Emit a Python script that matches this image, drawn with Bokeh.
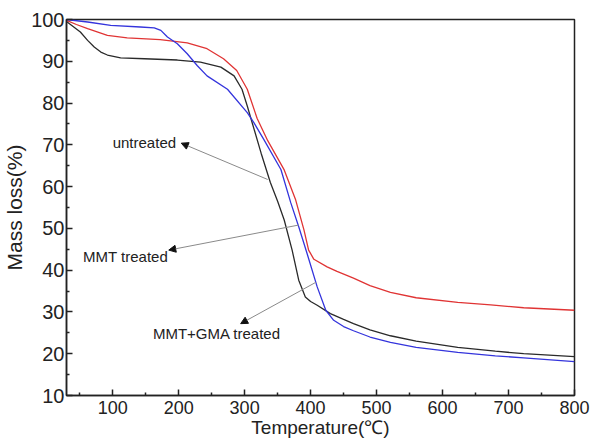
from bokeh.plotting import figure
from bokeh.models import Range1d, FixedTicker, Label, Arrow, NormalHead
from bokeh.embed import file_html
from bokeh.resources import INLINE

# Data
t_untreated = [30, 51, 62, 72, 82, 92, 112, 148, 198, 233, 264, 284, 296, 304, 312,
               325, 339, 350, 360, 372, 382, 392, 400, 410, 430, 450, 465, 490, 521,
               560, 623, 680, 723, 800]
m_untreated = [99.5, 97.0, 95.0, 93.4, 92.2, 91.5, 90.8, 90.6, 90.3, 89.8, 88.6, 86.5,
               83.3, 79.3, 75.0, 68.0, 61.0, 56.5, 52.0, 44.8, 37.6, 33.6, 32.5, 31.6,
               29.6, 28.2, 27.2, 25.7, 24.3, 23.0, 21.5, 20.6, 20.0, 19.3]

t_mmt = [30, 45, 62, 92, 122, 172, 213, 243, 268, 288, 304, 319, 335, 360, 377, 390,
         397, 405, 425, 440, 465, 490, 521, 560, 623, 673, 723, 800]
m_mmt = [99.8, 98.8, 97.8, 96.2, 95.6, 95.2, 94.4, 93.0, 90.6, 87.8, 83.3, 76.3, 71.0,
         64.0, 57.0, 49.6, 44.8, 42.6, 40.8, 39.7, 38.1, 36.3, 34.7, 33.4, 32.3, 31.7,
         31.0, 30.4]

t_gma = [30, 62, 97, 142, 163, 173, 183, 198, 213, 228, 243, 274, 304, 314, 329, 355,
         370, 382, 395, 410, 423, 435, 450, 465, 490, 521, 560, 623, 680, 723, 800]
m_gma = [100.0, 99.4, 98.6, 98.2, 98.0, 97.4, 95.8, 94.2, 91.8, 89.0, 86.5, 83.3, 77.7,
         75.3, 71.3, 64.1, 56.1, 50.4, 43.8, 36.0, 30.4, 28.0, 26.5, 25.5, 24.0, 22.7,
         21.5, 20.3, 19.5, 19.0, 18.1]

x_ticks = [100, 200, 300, 400, 500, 600, 700, 800]
x_minor = [50, 150, 250, 350, 450, 550, 650, 750]
y_ticks = [10, 20, 30, 40, 50, 60, 70, 80, 90, 100]
y_minor = [15, 25, 35, 45, 55, 65, 75, 85, 95]

FONT = "Liberation Sans"

p = figure(width=590, height=444, output_backend="svg", toolbar_location=None,
           x_range=Range1d(30, 800), y_range=Range1d(10, 100),
           min_border_left=66, min_border_right=16, min_border_top=19,
           min_border_bottom=49)
p.background_fill_color = "white"
p.border_fill_color = "white"
p.outline_line_color = "#222222"
p.outline_line_width = 1.5
p.xgrid.visible = False
p.ygrid.visible = False

p.line(t_untreated, m_untreated, line_color="#2a2a2a", line_width=1.3)
p.line(t_mmt, m_mmt, line_color="#e03434", line_width=1.3)
p.line(t_gma, m_gma, line_color="#3434dc", line_width=1.3)

for ax, ticks, minor in ((p.xaxis[0], x_ticks, x_minor), (p.yaxis[0], y_ticks, y_minor)):
    ax.ticker = FixedTicker(ticks=ticks, minor_ticks=minor)
    ax.axis_line_color = "#222222"
    ax.axis_line_width = 1.5
    ax.major_tick_line_color = "#222222"
    ax.major_tick_line_width = 1.5
    ax.minor_tick_line_color = "#222222"
    ax.minor_tick_line_width = 1.5
    ax.major_tick_in = 6
    ax.major_tick_out = 0
    ax.minor_tick_in = 3
    ax.minor_tick_out = 0
    ax.major_label_text_font = FONT
    ax.major_label_text_color = "#222222"
    ax.axis_label_text_font = FONT
    ax.axis_label_text_font_style = "normal"
    ax.axis_label_text_color = "#222222"

p.xaxis.major_label_text_font_size = "18px"
p.yaxis.major_label_text_font_size = "20px"
p.xaxis.axis_label_text_font_size = "19px"
p.yaxis.axis_label_text_font_size = "21px"
p.xaxis.axis_label = "Temperature(℃)"
p.yaxis.axis_label = "Mass loss(%)"
p.xaxis.major_label_standoff = 5
p.xaxis.axis_label_standoff = 0
p.yaxis.major_label_standoff = 2
p.yaxis.axis_label_standoff = 2

def add_note(text, tx, ty, xs, ys, xe, ye):
    p.add_layout(Label(x=tx, y=ty, text=text, text_font=FONT, text_font_size="15px",
                       text_color="#222222", text_baseline="middle"))
    p.add_layout(Arrow(end=NormalHead(size=7, fill_color="#111111", line_color="#111111"),
                       x_start=xs, y_start=ys, x_end=xe, y_end=ye,
                       line_color="#8a8a8a", line_width=1))

add_note("untreated", 100, 70.6, 335, 61.7, 204, 70.4)
add_note("MMT treated", 55, 43.3, 382, 50.8, 185, 44.8)
add_note("MMT+GMA treated", 161, 24.8, 408, 37.1, 294, 27.2)

open("out.html", "w").write(file_html(p, INLINE))
